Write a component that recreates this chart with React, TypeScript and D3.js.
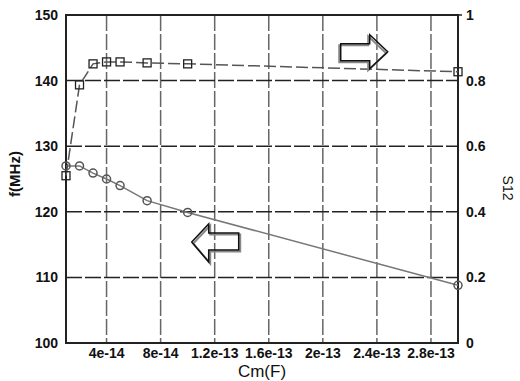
import React from 'react';
import * as d3 from 'd3';

// capacitance values (F)
const cmValues = [1e-14, 2e-14, 3e-14, 4e-14, 5e-14, 7e-14, 1e-13, 3e-13];
// resonant frequency, left axis (MHz)
const freqValues = [127.0, 127.0, 125.9, 125.0, 124.0, 121.7, 119.9, 108.8];
// S12, right axis
const s12Values = [0.51, 0.787, 0.851, 0.857, 0.857, 0.854, 0.851, 0.827];

const xTicks = [4e-14, 8e-14, 1.2e-13, 1.6e-13, 2e-13, 2.4e-13, 2.8e-13];
const xTickLabels = ['4e-14', '8e-14', '1.2e-13', '1.6e-13', '2e-13', '2.4e-13', '2.8e-13'];
const leftTicks = [100, 110, 120, 130, 140, 150];
const rightTicks = [0, 0.2, 0.4, 0.6, 0.8, 1];
const rightTickLabels = ['0', '0.2', '0.4', '0.6', '0.8', '1'];

// arrow annotations: tip position in data coords
const rightArrowTip = { x: 2.48e-13, s12: 0.888 };
const leftArrowTip = { x: 1.03e-13, f: 115.4 };

const W = 520;
const H = 381;
const margin = { top: 15, right: 62, bottom: 38, left: 66 };

const App = () => {
  const x = d3.scaleLinear().domain([1e-14, 3e-13]).range([margin.left, W - margin.right]);
  const yL = d3.scaleLinear().domain([100, 150]).range([H - margin.bottom, margin.top]);
  const yR = d3.scaleLinear().domain([0, 1]).range([H - margin.bottom, margin.top]);

  const freqPts = cmValues.map((c, i) => [x(c), yL(freqValues[i])] as [number, number]);
  const s12Pts = cmValues.map((c, i) => [x(c), yR(s12Values[i])] as [number, number]);
  const line = d3.line();

  const font = '"Liberation Sans", Arial, sans-serif';
  const x0 = margin.left;
  const x1 = W - margin.right;
  const y0 = margin.top;
  const y1 = H - margin.bottom;

  // arrow outlines relative to their tips
  const rx = x(rightArrowTip.x);
  const ry = yR(rightArrowTip.s12);
  const rightArrow = [
    [rx, ry], [rx - 18, ry - 17], [rx - 18, ry - 8], [rx - 47, ry - 8],
    [rx - 47, ry + 9], [rx - 18, ry + 9], [rx - 18, ry + 17],
  ] as [number, number][];
  const lx = x(leftArrowTip.x);
  const ly = yL(leftArrowTip.f);
  const leftArrow = [
    [lx, ly], [lx + 17, ly - 18], [lx + 17, ly - 9], [lx + 47, ly - 9],
    [lx + 47, ly + 8], [lx + 17, ly + 8], [lx + 17, ly + 20],
  ] as [number, number][];
  const poly = (pts: [number, number][], dx = 0, dy = 0) =>
    pts.map((p) => `${p[0] + dx},${p[1] + dy}`).join(' ');

  return (
    <svg width={W} height={H} style={{ position: 'absolute', left: 0, top: 0, background: '#fff' }}>
      {/* vertical grid */}
      {xTicks.map((t) => (
        <line key={'vg' + t} x1={x(t)} x2={x(t)} y1={y0} y2={y1}
          stroke="#666" strokeWidth={1.5} strokeDasharray="16,3" />
      ))}
      {/* horizontal grid */}
      {leftTicks.slice(1, -1).map((t) => (
        <line key={'hg' + t} x1={x0} x2={x1} y1={yL(t)} y2={yL(t)}
          stroke="#222" strokeWidth={1.5} strokeDasharray="16,3" />
      ))}
      {/* frame */}
      <rect x={x0} y={y0} width={x1 - x0} height={y1 - y0} fill="none" stroke="#222" strokeWidth={2} />
      <line x1={x1} x2={x1 + 4} y1={y0} y2={y0} stroke="#222" strokeWidth={1.5} />

      {/* f series */}
      <path d={line(freqPts) || ''} fill="none" stroke="#777" strokeWidth={1.5} />
      {freqPts.map((p, i) => (
        <circle key={'c' + i} cx={p[0]} cy={p[1]} r={4} fill="none" stroke="#555" strokeWidth={1.5} />
      ))}

      {/* S12 series */}
      <path d={line(s12Pts) || ''} fill="none" stroke="#555" strokeWidth={1.5} strokeDasharray="12,4" />
      {s12Pts.map((p, i) => (
        <rect key={'s' + i} x={p[0] - 4} y={p[1] - 4} width={8} height={8} fill="none" stroke="#222" strokeWidth={1.3} />
      ))}

      {/* arrows */}
      <polygon points={poly(rightArrow, -1.5, 1.5)} fill="none" stroke="#888" strokeWidth={2} />
      <polygon points={poly(rightArrow)} fill="none" stroke="#111" strokeWidth={1.5} />
      <polygon points={poly(leftArrow, 1.5, 1.5)} fill="none" stroke="#888" strokeWidth={2} />
      <polygon points={poly(leftArrow)} fill="none" stroke="#111" strokeWidth={1.5} />

      {/* left ticks */}
      {leftTicks.map((t) => (
        <text key={'lt' + t} x={58} y={yL(t) + 5} textAnchor="end" fontFamily={font}
          fontWeight="bold" fontSize={14} fill="#111">{t}</text>
      ))}
      {/* right ticks */}
      {rightTicks.map((t, i) => (
        <text key={'rt' + t} x={466} y={yR(t) + 5} textAnchor="start" fontFamily={font}
          fontWeight="bold" fontSize={14} fill="#111">{rightTickLabels[i]}</text>
      ))}
      {/* x ticks */}
      {xTicks.map((t, i) => (
        <text key={'xt' + t} x={x(t)} y={358} textAnchor="middle" fontFamily={font}
          fontWeight="bold" fontSize={14} fill="#111">{xTickLabels[i]}</text>
      ))}

      {/* axis titles */}
      <text x={262} y={377} textAnchor="middle" fontFamily={font} fontSize={17} fill="#111">Cm(F)</text>
      <text transform="translate(20,174) rotate(-90)" textAnchor="middle" fontFamily={font}
        fontWeight="bold" fontSize={15} fill="#111">f(MHz)</text>
      <text transform="translate(503,188) rotate(90)" textAnchor="middle" fontFamily={font}
        fontSize={14} fill="#111">S12</text>
    </svg>
  );
};

export default App;
